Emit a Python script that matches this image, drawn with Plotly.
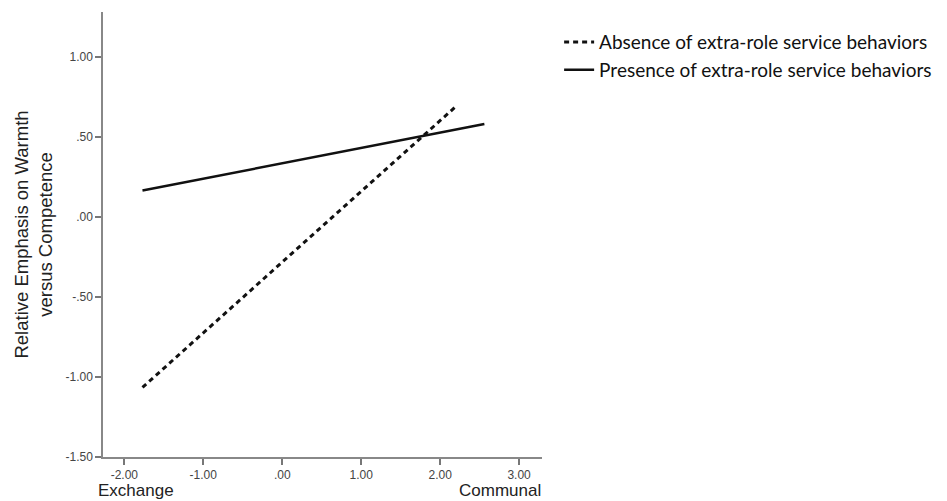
import plotly.graph_objects as go

# Data
x_absence = [-1.77, 2.20]
y_absence = [-1.065, 0.69]
x_presence = [-1.77, 2.56]
y_presence = [0.165, 0.58]

x_tickvals = [-2, -1, 0, 1, 2, 3]
x_ticktext = ["-2.00", "-1.00", ".00", "1.00", "2.00", "3.00"]
y_tickvals = [1.0, 0.5, 0.0, -0.5, -1.0, -1.5]
y_ticktext = ["1.00", ".50", ".00", "-.50", "-1.00", "-1.50"]

series_names = ["Absence of extra-role service behaviors",
                "Presence of extra-role service behaviors"]

fig = go.Figure()
fig.add_trace(go.Scatter(x=x_absence, y=y_absence, mode="lines", name=series_names[0],
                         line=dict(color="#111111", width=3, dash="5px,4px")))
fig.add_trace(go.Scatter(x=x_presence, y=y_presence, mode="lines", name=series_names[1],
                         line=dict(color="#111111", width=2.5)))

axis_common = dict(showgrid=False, zeroline=False, showline=True, linecolor="#888888",
                   linewidth=1.5, ticks="outside", tickcolor="#777777", tickwidth=1.5,
                   automargin=False,
                   tickfont=dict(family="Liberation Sans, Arial", size=12, color="#444444"))

fig.update_layout(
    width=947, height=501,
    paper_bgcolor="white", plot_bgcolor="white",
    margin=dict(l=95, r=413, t=4, b=52, autoexpand=False),
    showlegend=True,
    legend=dict(x=1.039, xanchor="left", y=0.975, yanchor="top", xref="paper",
                font=dict(family="Lato, Open Sans", size=19, color="#111111"),
                bgcolor="rgba(0,0,0,0)", tracegroupgap=0, itemwidth=30),
    xaxis=dict(range=[-2.27, 3.29], tickvals=x_tickvals, ticktext=x_ticktext,
               ticklen=6, **axis_common),
    yaxis=dict(range=[-1.5, 1.28], tickvals=y_tickvals, ticktext=y_ticktext,
               ticklen=6,
               title=dict(text="Relative Emphasis on Warmth<br>versus Competence",
                          font=dict(family="Liberation Sans, Arial", size=18.5, color="#222222"),
                          standoff=8),
               **axis_common),
    annotations=[
        dict(text="Exchange", x=-0.015, y=0, xref="paper", yref="paper", yshift=-33,
             xanchor="left", yanchor="middle", showarrow=False,
             font=dict(family="Liberation Sans, Arial", size=17, color="#222222")),
        dict(text="Communal", x=1.003, y=0, xref="paper", yref="paper", yshift=-33,
             xanchor="right", yanchor="middle", showarrow=False,
             font=dict(family="Liberation Sans, Arial", size=17, color="#222222")),
    ],
)

fig.write_html("out.html")
